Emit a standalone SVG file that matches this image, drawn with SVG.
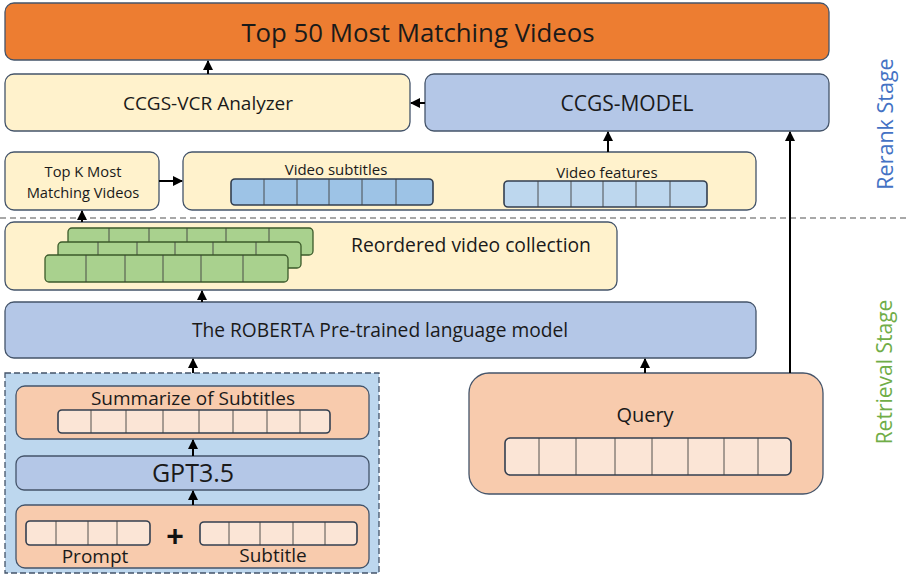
<svg xmlns="http://www.w3.org/2000/svg" width="907" height="575" viewBox="0 0 907 575">
<defs>
<marker id="ah" viewBox="0 0 10 10" refX="9" refY="5" markerWidth="5" markerHeight="5" orient="auto-start-reverse"><path d="M0,0 L10,5 L0,10 z" fill="#000"/></marker>
<style>
.box{stroke:#44546A;stroke-width:1.3}
.or{fill:#ED7D31}.yl{fill:#FFF2CC}.bl{fill:#B4C7E7}.pk{fill:#F8CBAD}
.bar{stroke:#333F50;stroke-width:1.6}
.div{stroke:#404040;stroke-width:0.9}
.t{font-family:"Open Sans","Liberation Sans",sans-serif;fill:#1a1a1a;text-anchor:middle}
.c{stroke:#000;stroke-width:2;fill:none;marker-end:url(#ah)}
</style>
</defs>
<rect width="907" height="575" fill="#fff"/>

<g id="top50"><rect class="box or" x="5" y="3" width="824" height="57" rx="9"/><text class="t" x="418" y="42" font-size="25.8">Top 50 Most Matching Videos</text></g>

<g id="analyzer"><rect class="box yl" x="5" y="74" width="405" height="57" rx="9"/><text class="t" x="208" y="110" font-size="19">CCGS-VCR Analyzer</text></g>

<g id="ccgsmodel"><rect class="box bl" x="425" y="74" width="404" height="57" rx="9"/><text class="t" x="627" y="111" font-size="21">CCGS-MODEL</text></g>

<g id="topk"><rect class="box yl" x="5" y="152" width="154" height="58" rx="9"/><text class="t" x="83" y="177" font-size="14.7">Top K Most</text><text class="t" x="83" y="198" font-size="14.7">Matching Videos</text></g>

<g id="videofeat"><rect class="box yl" x="183" y="152" width="573" height="58" rx="9"/>
<text class="t" x="336" y="175" font-size="15">Video subtitles</text>
<rect class="bar" x="231" y="179" width="202" height="26" rx="4" fill="#9DC3E6"/>
<g class="div"><line x1="264" y1="179" x2="264" y2="205"/><line x1="297" y1="179" x2="297" y2="205"/><line x1="329" y1="179" x2="329" y2="205"/><line x1="362" y1="179" x2="362" y2="205"/><line x1="396" y1="179" x2="396" y2="205"/></g>
<text class="t" x="607" y="178" font-size="15">Video features</text>
<rect class="bar" x="504" y="181" width="203" height="26" rx="4" fill="#BDD7EE"/>
<g class="div"><line x1="538" y1="181" x2="538" y2="207"/><line x1="571" y1="181" x2="571" y2="207"/><line x1="603" y1="181" x2="603" y2="207"/><line x1="636" y1="181" x2="636" y2="207"/><line x1="670" y1="181" x2="670" y2="207"/></g>
</g>

<line x1="0" y1="218" x2="907" y2="218" stroke="#8C8C8C" stroke-width="1.3" stroke-dasharray="6,4"/>

<g id="reordered"><rect class="box yl" x="5" y="222" width="612" height="68" rx="9"/>
<rect x="68" y="228" width="245" height="27" rx="4" fill="#A9D18E" stroke="#3B5A2A" stroke-width="1.3"/>
<g class="div"><line x1="109" y1="228" x2="109" y2="255"/><line x1="149" y1="228" x2="149" y2="255"/><line x1="187" y1="228" x2="187" y2="255"/><line x1="226" y1="228" x2="226" y2="255"/><line x1="269" y1="228" x2="269" y2="255"/></g>
<rect x="58" y="242" width="243" height="26" rx="4" fill="#A9D18E" stroke="#3B5A2A" stroke-width="1.3"/>
<g class="div"><line x1="98" y1="242" x2="98" y2="268"/><line x1="137" y1="242" x2="137" y2="268"/><line x1="175" y1="242" x2="175" y2="268"/><line x1="213" y1="242" x2="213" y2="268"/><line x1="256" y1="242" x2="256" y2="268"/></g>
<rect x="45" y="255" width="243" height="27" rx="4" fill="#A9D18E" stroke="#3B5A2A" stroke-width="1.3"/>
<g class="div"><line x1="86" y1="255" x2="86" y2="282"/><line x1="125" y1="255" x2="125" y2="282"/><line x1="163" y1="255" x2="163" y2="282"/><line x1="201" y1="255" x2="201" y2="282"/><line x1="243" y1="255" x2="243" y2="282"/></g>
<text class="t" x="471" y="252" font-size="19.3">Reordered video collection</text>
</g>

<g id="roberta"><rect class="box bl" x="5" y="302" width="751" height="56" rx="9"/><text class="t" x="380" y="337" font-size="19.2">The ROBERTA Pre-trained language model</text></g>

<g id="gptpanel"><rect x="5" y="373" width="374" height="200" fill="#BDD7EE" stroke="#44546A" stroke-width="1.3" stroke-dasharray="6,3"/>
<g id="summarize"><rect class="box pk" x="16" y="386" width="353" height="53" rx="9"/>
<text class="t" x="193" y="405" font-size="19">Summarize of Subtitles</text>
<rect class="bar" x="58" y="410" width="272" height="23" rx="4" fill="#FBE5D6"/>
<g class="div"><line x1="91" y1="410" x2="91" y2="433"/><line x1="126" y1="410" x2="126" y2="433"/><line x1="163" y1="410" x2="163" y2="433"/><line x1="199" y1="410" x2="199" y2="433"/><line x1="233" y1="410" x2="233" y2="433"/><line x1="267" y1="410" x2="267" y2="433"/><line x1="300" y1="410" x2="300" y2="433"/></g>
</g>
<g id="gpt"><rect class="box bl" x="16" y="456" width="353" height="34" rx="8"/><text class="t" x="193" y="482" font-size="25">GPT3.5</text></g>
<g id="inputs"><rect class="box pk" x="16" y="505" width="353" height="63" rx="9"/>
<rect class="bar" x="26" y="521" width="124" height="24" rx="4" fill="#FBE5D6"/>
<g class="div"><line x1="56" y1="521" x2="56" y2="545"/><line x1="88" y1="521" x2="88" y2="545"/><line x1="117" y1="521" x2="117" y2="545"/></g>
<text x="175" y="546" font-family="Liberation Sans,sans-serif" font-size="30" font-weight="bold" text-anchor="middle" fill="#111">+</text>
<rect class="bar" x="200" y="522" width="157" height="23" rx="4" fill="#FBE5D6"/>
<g class="div"><line x1="229" y1="522" x2="229" y2="545"/><line x1="260" y1="522" x2="260" y2="545"/><line x1="293" y1="522" x2="293" y2="545"/><line x1="325" y1="522" x2="325" y2="545"/></g>
<text class="t" x="95" y="563" font-size="19">Prompt</text>
<text class="t" x="273" y="562" font-size="19">Subtitle</text>
</g>
</g>

<g id="query"><rect class="box pk" x="469" y="373" width="354" height="121" rx="20"/>
<text class="t" x="645" y="422" font-size="20">Query</text>
<rect class="bar" x="505" y="438" width="286" height="37" rx="5" fill="#FBE5D6"/>
<g class="div"><line x1="539" y1="438" x2="539" y2="475"/><line x1="576" y1="438" x2="576" y2="475"/><line x1="615" y1="438" x2="615" y2="475"/><line x1="652" y1="438" x2="652" y2="475"/><line x1="688" y1="438" x2="688" y2="475"/><line x1="724" y1="438" x2="724" y2="475"/><line x1="758" y1="438" x2="758" y2="475"/></g>
</g>

<g id="stages">
<text x="884" y="124" transform="rotate(-90 884 124)" font-family="Open Sans,Liberation Sans,sans-serif" font-size="21.5" fill="#4472C4" text-anchor="middle" dominant-baseline="central">Rerank  Stage</text>
<text x="884" y="372" transform="rotate(-90 884 372)" font-family="Open Sans,Liberation Sans,sans-serif" font-size="21" fill="#70AD47" text-anchor="middle" dominant-baseline="central">Retrieval Stage</text>
</g>

<g id="connectors">
<line class="c" x1="208" y1="74" x2="208" y2="61"/>
<line class="c" x1="425" y1="103" x2="411" y2="103"/>
<line class="c" x1="159" y1="181" x2="182" y2="181"/>
<line class="c" x1="608" y1="152" x2="608" y2="132"/>
<line class="c" x1="790" y1="373" x2="790" y2="132"/>
<line class="c" x1="82" y1="222" x2="82" y2="211"/>
<line class="c" x1="202" y1="302" x2="202" y2="291"/>
<line class="c" x1="193" y1="373" x2="193" y2="359"/>
<line class="c" x1="645" y1="373" x2="645" y2="359"/>
<line class="c" x1="193" y1="456" x2="193" y2="440"/>
<line class="c" x1="193" y1="505" x2="193" y2="491"/>
</g>
</svg>
